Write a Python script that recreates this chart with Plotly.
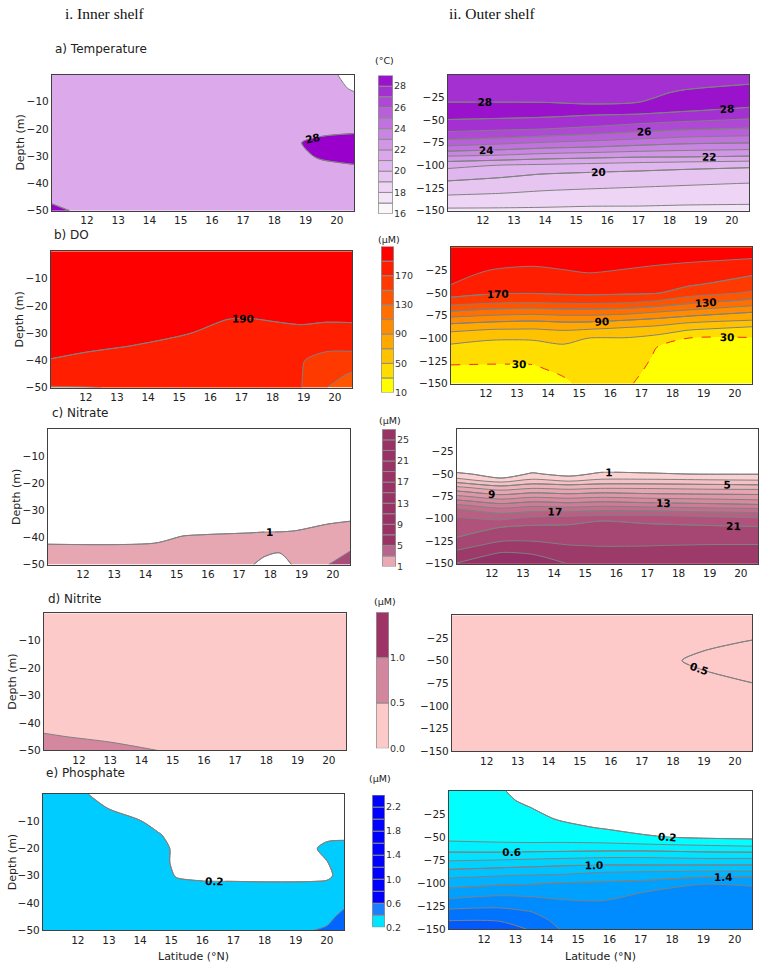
import plotly.graph_objects as go

W, H = 760, 974
SANS = "DejaVu Sans"
SERIF = "Liberation Serif"
LINE = "#808080"
FRAME = "#404040"

# ---------------- data ----------------
DEPTH_L = [0, -5, -10, -15, -20, -25, -30, -35, -40, -45, -50]
DEPTH_R = [0, -10, -20, -30, -40, -50, -60, -70, -80, -90, -100, -110, -120, -130, -140, -150]

# a) Temperature (degC)
LAT_T_L = [10.88, 12, 14, 16, 18, 18.5, 19.5, 20.55]
Z_T_L = [
    [27.5, 27.5, 27.5, 27.5, 27.5, 27.5, 27.2, 26.8],
    [27.5, 27.5, 27.5, 27.5, 27.5, 27.5, 27.4, 26.9],
    [27.5, 27.5, 27.5, 27.5, 27.5, 27.5, 27.5, 27.3],
    [27.5, 27.5, 27.5, 27.5, 27.5, 27.5, 27.5, 27.5],
    [27.5, 27.5, 27.5, 27.5, 27.5, 27.5, 27.7, 27.8],
    [27.5, 27.5, 27.5, 27.5, 27.5, 27.85, 28.25, 28.4],
    [27.5, 27.5, 27.5, 27.5, 27.5, 27.7, 28.1, 28.3],
    [27.5, 27.5, 27.5, 27.5, 27.5, 27.5, 27.7, 27.8],
    [27.5, 27.5, 27.5, 27.5, 27.5, 27.5, 27.5, 27.5],
    [27.8, 27.5, 27.5, 27.5, 27.5, 27.5, 27.5, 27.5],
    [28.2, 27.8, 27.5, 27.5, 27.5, 27.5, 27.5, 27.5],
]
LAT_T_R = [10.88, 12.5, 14, 15.5, 17, 18.5, 20.55]
Z_T_R = [
    [27.7, 27.7, 27.7, 27.65, 27.7, 27.75, 27.8],
    [27.8, 27.8, 27.8, 27.75, 27.8, 27.9, 27.97],
    [27.9, 27.9, 27.9, 27.85, 27.9, 28.05, 28.4],
    [27.98, 27.98, 27.97, 27.9, 27.98, 28.4, 28.4],
    [28.4, 28.4, 28.4, 28.3, 28.3, 28.05, 27.75],
    [27.98, 27.92, 27.83, 27.67, 27.45, 27.18, 26.9],
    [27.29, 27.15, 26.99, 26.75, 26.37, 26.11, 25.89],
    [26.25, 25.98, 25.71, 25.43, 25.13, 24.86, 24.71],
    [24.8, 24.5, 24.17, 23.98, 23.71, 23.5, 23.38],
    [22.98, 22.8, 22.5, 22.33, 22.17, 22.14, 21.98],
    [21.29, 20.98, 20.82, 20.67, 20.5, 20.33, 20.17],
    [20.47, 20.23, 19.95, 19.8, 19.7, 19.6, 19.53],
    [19.81, 19.61, 19.42, 19.3, 19.2, 19.1, 18.98],
    [19.19, 19.06, 18.89, 18.79, 18.71, 18.64, 18.57],
    [18.5, 18.44, 18.33, 18.26, 18.24, 18.18, 18.13],
    [17.8, 17.8, 17.8, 17.75, 17.75, 17.7, 17.7],
]

# b) DO (uM)
LAT_DO_L = [10.88, 12, 13.5, 15.3, 16.6, 17.3, 18.9, 19.7, 20.55]
Z_DO_L = [
    [200, 200, 200, 200, 200, 200, 200, 200, 200],
    [199, 199, 199, 199, 199, 199, 199, 199, 199],
    [198, 198, 198, 198, 198, 198, 197, 197, 197],
    [197, 197, 197, 197, 195, 195, 195, 195, 195],
    [196, 196, 196, 195, 192.5, 192.5, 193, 193, 193],
    [195, 195, 194, 193, 189.9, 189.8, 190.9, 190.5, 190.6],
    [193.5, 193, 192, 190.2, 187, 187, 188.5, 188, 188],
    [191.5, 191, 189.8, 187, 184, 184, 180, 173, 173],
    [189.8, 188.5, 186, 184, 182, 182, 171, 165, 164],
    [180, 180, 180, 180, 180, 180, 171, 158, 148],
    [169, 169.5, 171, 176, 178, 178, 171, 150.5, 140],
]
LAT_DO_R = [10.88, 12.2, 13.5, 14.5, 15.3, 16.5, 17.5, 18.5, 20.55]
Z_DO_R = [
    [200, 200, 201, 200, 200, 200, 200, 200, 200],
    [198, 196.2, 196, 196.2, 196.6, 196, 195, 194.1, 192.3],
    [196, 192.3, 190.5, 192.3, 193.1, 192, 189.8, 187.9, 182.2],
    [194, 187.0, 184.2, 187.1, 189.2, 186.6, 183.8, 180.7, 171.1],
    [191, 179.6, 177.7, 180, 181.5, 179.7, 177.5, 173.6, 160.3],
    [179.2, 172.2, 171.3, 172.9, 173.8, 172.8, 171.3, 160, 147.5],
    [160, 154.4, 152.2, 155, 155.7, 152.9, 146.7, 135.7, 122.5],
    [130.5, 123.3, 120.5, 123.3, 123.3, 120.4, 113.3, 106.7, 93.3],
    [100, 95, 92.5, 95, 95, 90.4, 85, 77.5, 70.3],
    [75, 70.5, 69.5, 72.2, 70.4, 65.6, 61.1, 52.5, 42.7],
    [57.7, 51.8, 51.8, 56.2, 49.7, 49, 43.3, 29.8, 29],
    [45.8, 43.3, 43.6, 46.8, 46.8, 45.8, 29.8, 27, 25.6],
    [37.5, 35.9, 36.4, 41.6, 43.8, 42.6, 27.5, 24, 22.2],
    [29.5, 29, 29.3, 36.3, 40.9, 39.4, 25, 21, 18.8],
    [24.5, 24, 24.3, 31, 38, 36.2, 22.5, 18, 15.4],
    [19.5, 19, 19.3, 27, 35, 33, 20, 15, 12],
]

# c) Nitrate (uM)
LAT_N_L = [10.88, 14.3, 15.2, 16, 17.3, 17.8, 18.3, 18.8, 19.8, 20.55]
DEPTH_N_L = [0, -30, -35, -40, -45, -50]
Z_N_L = [
    [0.3, 0.3, 0.3, 0.3, 0.3, 0.3, 0.3, 0.3, 0.3, 0.3],
    [0.5, 0.5, 0.5, 0.5, 0.5, 0.5, 0.5, 0.5, 0.55, 0.6],
    [0.6, 0.6, 0.6, 0.65, 0.7, 0.7, 0.72, 0.75, 0.99, 1.1],
    [0.8, 0.82, 1.05, 1.1, 1.15, 1.2, 1.2, 1.25, 1.5, 2.0],
    [1.2, 1.25, 1.4, 1.4, 1.3, 1.15, 1.05, 1.3, 2.4, 2.98],
    [1.5, 1.5, 1.5, 1.5, 1.1, 0.8, 0.7, 1.1, 2.9, 4.0],
]
LAT_N_R = [10.88, 12.3, 13.3, 14.5, 15.5, 17, 19, 20.55]
DEPTH_N_R = [0, -20, -40, -45, -50, -55, -60, -65, -70, -75, -80, -85, -90,
             -95, -100, -110, -120, -130, -140, -150]
Z_N_R = [
    [0.1, 0.1, 0.1, 0.1, 0.1, 0.1, 0.1, 0.1],
    [0.2, 0.2, 0.2, 0.2, 0.2, 0.2, 0.2, 0.2],
    [0.4, 0.3, 0.5, 0.4, 0.5, 0.45, 0.45, 0.45],
    [0.6, 0.4, 0.75, 0.6, 0.75, 0.7, 0.65, 0.65],
    [1.2, 0.6, 1.1, 0.75, 1.15, 1.1, 0.95, 0.95],
    [3.1, 1.05, 2.7, 1.3, 2.7, 2.7, 2.45, 2.3],
    [5.2, 3.5, 4.6, 4.2, 4.6, 4.6, 4.4, 4.2],
    [7.4, 5.8, 6.6, 6.2, 6.6, 6.6, 6.3, 6.2],
    [9.4, 7.8, 8.6, 8.2, 8.6, 8.3, 8.1, 8.05],
    [11.4, 9.8, 10.6, 10.2, 10.6, 10.2, 9.9, 9.7],
    [13.4, 11.8, 12.6, 12.2, 12.6, 12.2, 11.8, 11.4],
    [15.4, 13.8, 14.6, 14.2, 14.6, 14.2, 13.8, 13.4],
    [17.25, 15.7, 16.3, 16.2, 16.6, 16.5, 15.9, 15.7],
    [18.5, 17.3, 18.05, 18.2, 18.4, 18.6, 18.1, 17.8],
    [19.25, 18.7, 19.6, 20.05, 20.8, 20.3, 19.8, 19.4],
    [20.1, 21.1, 21.5, 21.5, 21.6, 21.6, 21.4, 21.25],
    [20.9, 22.25, 22.4, 22.3, 22.3, 22.3, 22.25, 22.3],
    [22.3, 23.7, 23.6, 23.05, 22.95, 22.98, 23.1, 23.1],
    [23.7, 25.4, 25.05, 23.9, 23.6, 23.5, 23.8, 23.8],
    [25.1, 26.5, 26.0, 24.9, 24.2, 24.0, 24.5, 24.5],
]

# d) Nitrite (uM)
LAT_NI_L = [10.88, 13, 15, 20.55]
DEPTH_NI_L = [0, -40, -45, -50]
Z_NI_L = [
    [0.2, 0.2, 0.2, 0.2],
    [0.35, 0.3, 0.25, 0.22],
    [0.55, 0.4, 0.3, 0.25],
    [0.7, 0.65, 0.45, 0.3],
]
LAT_NI_R = [10.88, 14, 17, 18, 19, 20.55]
DEPTH_NI_R = [0, -20, -30, -40, -50, -60, -70, -80, -100, -150]
Z_NI_R = [
    [0.2, 0.2, 0.2, 0.2, 0.2, 0.2],
    [0.22, 0.22, 0.25, 0.28, 0.3, 0.35],
    [0.24, 0.24, 0.28, 0.32, 0.35, 0.55],
    [0.25, 0.25, 0.3, 0.38, 0.51, 0.7],
    [0.26, 0.26, 0.32, 0.45, 0.62, 0.8],
    [0.25, 0.25, 0.3, 0.38, 0.51, 0.7],
    [0.24, 0.24, 0.28, 0.32, 0.35, 0.58],
    [0.23, 0.23, 0.25, 0.28, 0.3, 0.4],
    [0.22, 0.22, 0.22, 0.23, 0.24, 0.25],
    [0.2, 0.2, 0.2, 0.2, 0.2, 0.2],
]

# e) Phosphate (uM)
LAT_P_L = [10.88, 12, 13, 14, 14.6, 15.2, 16, 17, 18, 19, 19.6, 20.0, 20.55]
Z_P_L = [
    [0.3, 0.25, 0.1, 0.1, 0.1, 0.1, 0.1, 0.1, 0.1, 0.1, 0.1, 0.1, 0.1],
    [0.3, 0.3, 0.19, 0.1, 0.1, 0.1, 0.1, 0.1, 0.1, 0.1, 0.1, 0.1, 0.1],
    [0.3, 0.3, 0.3, 0.21, 0.1, 0.1, 0.1, 0.1, 0.1, 0.1, 0.1, 0.1, 0.1],
    [0.3, 0.3, 0.3, 0.3, 0.22, 0.1, 0.1, 0.1, 0.1, 0.1, 0.1, 0.1, 0.1],
    [0.3, 0.3, 0.3, 0.3, 0.3, 0.13, 0.1, 0.1, 0.1, 0.1, 0.17, 0.3, 0.35],
    [0.3, 0.3, 0.3, 0.3, 0.3, 0.13, 0.1, 0.1, 0.1, 0.1, 0.1, 0.19, 0.35],
    [0.3, 0.3, 0.3, 0.3, 0.3, 0.18, 0.14, 0.13, 0.12, 0.12, 0.13, 0.15, 0.3],
    [0.3, 0.3, 0.3, 0.3, 0.3, 0.3, 0.3, 0.3, 0.3, 0.3, 0.3, 0.3, 0.3],
    [0.3, 0.3, 0.3, 0.3, 0.3, 0.3, 0.3, 0.3, 0.3, 0.3, 0.3, 0.3, 0.37],
    [0.3, 0.3, 0.3, 0.3, 0.3, 0.3, 0.3, 0.3, 0.3, 0.3, 0.3, 0.36, 0.44],
    [0.3, 0.3, 0.3, 0.3, 0.3, 0.3, 0.3, 0.3, 0.3, 0.3, 0.405, 0.42, 0.5],
]
LAT_P_R = [10.88, 12.5, 13.5, 14.5, 15.8, 17.2, 19, 20.55]
Z_P_R = [
    [0.26, 0.22, 0.12, 0.05, 0.05, 0.03, 0.03, 0.03],
    [0.27, 0.24, 0.16, 0.08, 0.06, 0.04, 0.04, 0.04],
    [0.28, 0.26, 0.21, 0.12, 0.08, 0.06, 0.05, 0.05],
    [0.3, 0.28, 0.25, 0.18, 0.12, 0.09, 0.07, 0.06],
    [0.32, 0.31, 0.29, 0.25, 0.19, 0.13, 0.1, 0.09],
    [0.35, 0.34, 0.33, 0.33, 0.306, 0.222, 0.17, 0.15],
    [0.467, 0.45, 0.45, 0.453, 0.457, 0.457, 0.429, 0.405],
    [0.68, 0.689, 0.705, 0.72, 0.743, 0.743, 0.714, 0.714],
    [0.889, 0.925, 0.95, 0.975, 0.995, 0.995, 0.995, 0.995],
    [1.111, 1.156, 1.178, 1.19, 1.244, 1.267, 1.292, 1.3],
    [1.309, 1.36, 1.38, 1.412, 1.429, 1.46, 1.595, 1.59],
    [1.483, 1.545, 1.538, 1.53, 1.52, 1.61, 1.64, 1.62],
    [1.655, 1.7, 1.67, 1.62, 1.61, 1.65, 1.67, 1.65],
    [1.833, 1.846, 1.79, 1.67, 1.64, 1.68, 1.71, 1.69],
    [1.99, 1.99, 1.9, 1.72, 1.68, 1.72, 1.75, 1.72],
    [2.12, 2.06, 1.99, 1.78, 1.72, 1.75, 1.78, 1.75],
]

# colour-bar keys
CB_T_LEVELS = [16, 17, 18, 19, 20, 21, 22, 23, 24, 25, 26, 27, 28, 29]
CB_T_TICKS = [16, 18, 20, 22, 24, 26, 28]
CB_DO_LEVELS = [10, 30, 50, 70, 90, 110, 130, 150, 170, 190, 210]
CB_DO_TICKS = [10, 50, 90, 130, 170]
CB_N_LEVELS = [1, 3, 5, 7, 9, 11, 13, 15, 17, 19, 21, 23, 25, 27]
CB_N_TICKS = [1, 5, 9, 13, 17, 21, 25]
CB_NI_LEVELS = [0.0, 0.5, 1.0, 1.5]
CB_NI_TICKS = [0.0, 0.5, 1.0]
CB_P_LEVELS = [0.2, 0.4, 0.6, 0.8, 1.0, 1.2, 1.4, 1.6, 1.8, 2.0, 2.2, 2.4]
CB_P_TICKS = [0.2, 0.6, 1.0, 1.4, 1.8, 2.2]

# colours
TEMP_COLORS = ["#fbf5fc", "#f4e4f8", "#eed5f5", "#e7c5f1", "#e0b6ee", "#d9a7ea",
               "#d197e6", "#c985e2", "#c172de", "#b85fd9", "#ae48d5", "#a530d1", "#9a12cc"]
TEMP_L_COLORS = ["#ffffff", "#dcaaea", "#9900cc"]
DO_COLORS = ["#ffff00", "#ffdd00", "#ffc200", "#ffa800", "#ff8c00", "#ff7000",
             "#ff5500", "#ff3a00", "#ff1e00", "#ff0000"]
DO_L_COLORS = ["#ff5500", "#ff3a00", "#ff1e00", "#ff0000"]
NIT_R_COLORS = ["#ffffff", "#fbd0d0", "#f4c1c4", "#eeb3ba", "#e7a5b1", "#df97a8", "#d7899f",
                "#ce7b96", "#c46d8d", "#ba5f84", "#b0527b", "#a64672", "#9c3a6a", "#933066"]
NIT_L_COLORS = ["#ffffff", "#e6a7b3", "#a84c7a"]
NIT_CB_COLORS = ["#e8a9b5", "#b9648c"] + ["#993366"] * 11
NII_R_COLORS = ["#fdc9c9", "#fdc9c9"]
NII_L_COLORS = ["#fdcaca", "#d4889f"]
NII_CB_COLORS = ["#fdcaca", "#d3879f", "#9e3366"]
PHO_R_COLORS = ["#ffffff", "#00ffff", "#00f0ff", "#00e2ff", "#00d2ff", "#00c2ff",
                "#00b2ff", "#00a0ff", "#008cff", "#0074ff", "#005aff"]
PHO_L_COLORS = ["#ffffff", "#00ccff", "#0066ff"]
PHO_CB_COLORS = ["#00e5ff", "#1a80ff"] + ["#0000ff"] * 9

# ---------------- layout geometry (pixels) ----------------
PANELS = {
    1: (52, 354, 75, 212, "L"),
    2: (448, 749, 75, 212, "R"),
    3: (51, 352, 253, 390, "L"),
    4: (451, 752, 249, 386, "R"),
    5: (48, 350, 432, 568, "L"),
    6: (457, 758, 432, 567, "R"),
    7: (44, 346, 617, 755, "L"),
    8: (452, 752, 619, 756, "R"),
    9: (43, 344, 799, 936, "L"),
    10: (449, 752, 796, 935, "R"),
}
CBARS = {
    11: (378, 393, 76, 215),
    12: (381, 394, 248, 395),
    13: (382, 396, 432, 570),
    14: (376, 389, 616, 753),
    15: (372, 385, 800, 933),
}

fig = go.Figure()


def ax(idx):
    s = "" if idx == 1 else str(idx)
    return "x" + s, "y" + s


def scale(colors):
    n = len(colors) - 1
    return [[i / n, c] for i, c in enumerate(colors)]


LABELFONT = dict(family=SANS, size=10.5, color="black", weight="bold")


def add_fill(x, y, z, start, end, size, colors, idx, showlines=True):
    xa, ya = ax(idx)
    fig.add_trace(go.Contour(
        x=x, y=y, z=z, xaxis=xa, yaxis=ya, autocontour=False,
        contours=dict(start=start, end=end, size=size, coloring="fill",
                      showlines=showlines),
        colorscale=scale(colors), showscale=False,
        line=dict(color=LINE, width=1, smoothing=0.8), hoverinfo="skip"))


def add_lines(x, y, z, start, end, size, idx, labels=False, color=LINE,
              dash="solid", fmt=""):
    xa, ya = ax(idx)
    fig.add_trace(go.Contour(
        x=x, y=y, z=z, xaxis=xa, yaxis=ya, autocontour=False,
        contours=dict(start=start, end=end, size=size, coloring="none",
                      showlabels=labels, labelfont=LABELFONT, labelformat=fmt),
        showscale=False,
        line=dict(color=color, width=1, dash=dash, smoothing=0.8),
        hoverinfo="skip"))


# a) Temperature
add_fill(LAT_T_L, DEPTH_L, Z_T_L, 27, 28, 1, TEMP_L_COLORS, 1)
add_lines(LAT_T_L, DEPTH_L, Z_T_L, 28, 28, 1, 1, labels=True)
add_fill(LAT_T_R, DEPTH_R, Z_T_R, 17, 28, 1, TEMP_COLORS, 2)
add_lines(LAT_T_R, DEPTH_R, Z_T_R, 20, 28, 2, 2, labels=True)

# b) DO
add_fill(LAT_DO_L, DEPTH_L, Z_DO_L, 150, 190, 20, DO_L_COLORS, 3)
add_lines(LAT_DO_L, DEPTH_L, Z_DO_L, 190, 190, 20, 3, labels=True)
add_fill(LAT_DO_R, DEPTH_R, Z_DO_R, 30, 190, 20, DO_COLORS, 4, showlines=False)
add_lines(LAT_DO_R, DEPTH_R, Z_DO_R, 50, 190, 20, 4)
add_lines(LAT_DO_R, DEPTH_R, Z_DO_R, 90, 170, 40, 4, labels=True)
add_lines(LAT_DO_R, DEPTH_R, Z_DO_R, 30, 30, 20, 4, labels=True,
          color="#ff2020", dash="dash")

# c) Nitrate
add_fill(LAT_N_L, DEPTH_N_L, Z_N_L, 1, 3, 2, NIT_L_COLORS, 5)
add_lines(LAT_N_L, DEPTH_N_L, Z_N_L, 1, 1, 2, 5, labels=True)
add_fill(LAT_N_R, DEPTH_N_R, Z_N_R, 1, 25, 2, NIT_R_COLORS, 6)
add_lines(LAT_N_R, DEPTH_N_R, Z_N_R, 1, 21, 4, 6, labels=True)

# d) Nitrite
add_fill(LAT_NI_L, DEPTH_NI_L, Z_NI_L, 0.5, 0.5, 0.5, NII_L_COLORS, 7)
add_fill(LAT_NI_R, DEPTH_NI_R, Z_NI_R, 0.5, 0.5, 0.5, NII_R_COLORS, 8)
add_lines(LAT_NI_R, DEPTH_NI_R, Z_NI_R, 0.5, 0.5, 0.5, 8, labels=True, fmt=".1f")

# e) Phosphate
add_fill(LAT_P_L, DEPTH_L, Z_P_L, 0.2, 0.4, 0.2, PHO_L_COLORS, 9)
add_lines(LAT_P_L, DEPTH_L, Z_P_L, 0.2, 0.2, 0.2, 9, labels=True, fmt=".1f")
add_fill(LAT_P_R, DEPTH_R, Z_P_R, 0.2, 2.0, 0.2, PHO_R_COLORS, 10)
add_lines(LAT_P_R, DEPTH_R, Z_P_R, 0.2, 1.4, 0.4, 10, labels=True, fmt=".1f")


# colour keys drawn as stacked boxes
def add_key(levels, colors, idx):
    xa, ya = ax(idx)
    base = levels[:-1]
    heights = [b - a for a, b in zip(levels[:-1], levels[1:])]
    fig.add_trace(go.Bar(
        x=[0] * len(base), y=heights, base=base, width=1,
        marker=dict(color=colors, line=dict(color="#8c8c8c", width=1)),
        xaxis=xa, yaxis=ya, showlegend=False, hoverinfo="skip"))


add_key(CB_T_LEVELS, TEMP_COLORS, 11)
add_key(CB_DO_LEVELS, DO_COLORS, 12)
add_key(CB_N_LEVELS, NIT_CB_COLORS, 13)
add_key(CB_NI_LEVELS, NII_CB_COLORS, 14)
add_key(CB_P_LEVELS, PHO_CB_COLORS, 15)


def dx(a, b):
    return [a / W, b / W]


def dy(a, b):
    return [1 - b / H, 1 - a / H]


layout = dict(width=W, height=H, margin=dict(l=0, r=0, t=0, b=0),
              paper_bgcolor="white", plot_bgcolor="white", showlegend=False,
              font=dict(family=SANS, color="#222222"))

TICKFONT = dict(family=SANS, size=10.5, color="#222222")
for idx, (x0, x1, y0, y1, side) in PANELS.items():
    s = "" if idx == 1 else str(idx)
    layout["xaxis" + s] = dict(
        domain=dx(x0, x1), range=[10.88, 20.55], anchor="y" + s,
        tickvals=[12, 13, 14, 15, 16, 17, 18, 19, 20], ticks="",
        showline=True, mirror=True, linecolor=FRAME, linewidth=1.3,
        showgrid=False, zeroline=False, tickfont=TICKFONT)
    if side == "L":
        yr, yt = [-50, 0], [-10, -20, -30, -40, -50]
    else:
        yr, yt = [-150, 0], [-25, -50, -75, -100, -125, -150]
    layout["yaxis" + s] = dict(
        domain=dy(y0, y1), range=yr, anchor="x" + s, tickvals=yt, ticks="",
        showline=True, mirror=True, linecolor=FRAME, linewidth=1.3,
        showgrid=False, zeroline=False, tickfont=TICKFONT)

KEYS = {11: (CB_T_LEVELS, CB_T_TICKS, "d"), 12: (CB_DO_LEVELS, CB_DO_TICKS, "d"),
        13: (CB_N_LEVELS, CB_N_TICKS, "d"), 14: (CB_NI_LEVELS, CB_NI_TICKS, ".1f"),
        15: (CB_P_LEVELS, CB_P_TICKS, ".1f")}
for idx, (x0, x1, y0, y1) in CBARS.items():
    levels, ticks, fmt = KEYS[idx]
    s = str(idx)
    layout["xaxis" + s] = dict(domain=dx(x0, x1), range=[-0.52, 0.52],
                               anchor="y" + s, visible=False, fixedrange=True)
    layout["yaxis" + s] = dict(
        domain=dy(y0, y1), range=[levels[0], levels[-1]], anchor="x" + s,
        side="right", tickvals=ticks, tickformat=fmt, ticks="",
        showgrid=False, zeroline=False, showline=False,
        tickfont=dict(family=SANS, size=9.5, color="#333333"))

ann = []


def text(x, y, t, size=12, family=SANS, xanchor="center", angle=0, color="#222222"):
    ann.append(dict(x=x / W, y=1 - y / H, xref="paper", yref="paper", text=t,
                    showarrow=False, xanchor=xanchor, yanchor="middle",
                    textangle=angle, font=dict(family=family, size=size, color=color)))


text(63, 14, "i. Inner shelf", size=15.5, family=SERIF, xanchor="left", color="#111111")
text(447, 14, "ii. Outer shelf", size=15.5, family=SERIF, xanchor="left", color="#111111")
text(53, 49, "a) Temperature", size=12, xanchor="left")
text(52, 236, "b) DO", size=12, xanchor="left")
text(50, 416, "c) Nitrate", size=12, xanchor="left")
text(46, 603, "d) Nitrite", size=12, xanchor="left")
text(44, 778, "e) Phosphate", size=12, xanchor="left")
for idx in (1, 3, 5, 7, 9):
    x0, x1, y0, y1, _ = PANELS[idx]
    text(x0 - 31, (y0 + y1) / 2, "Depth (m)", size=11, angle=-90)
text(193, 962, "Latitude (°N)", size=11)
text(600, 962, "Latitude (°N)", size=11)
text(384, 61, "(°C)", size=9.5)
text(389, 241, "(µM)", size=9.5)
text(390, 423, "(µM)", size=9.5)
text(385, 605, "(µM)", size=9.5)
text(380, 783, "(µM)", size=9.5)
layout["annotations"] = ann

fig.update_layout(**layout)
fig.write_html("out.html")
